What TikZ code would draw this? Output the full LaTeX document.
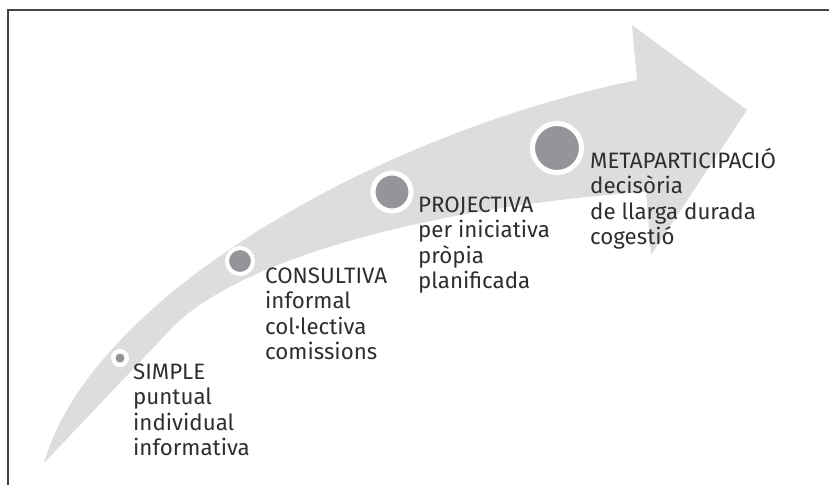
\documentclass[tikz,border=0pt]{standalone}
\usepackage{fontspec}
\setmainfont{Fira Sans}
\usetikzlibrary{positioning}
\definecolor{bandgrey}{HTML}{DCDDDE}
\definecolor{dotgrey}{HTML}{939598}
\definecolor{inkgrey}{HTML}{2E2E2E}
\definecolor{framegrey}{HTML}{444444}
\tikzset{
  ringdot/.style 2 args={circle,inner sep=0pt,fill=dotgrey,draw=white,line width=#1,minimum size=#2},
  stagetext/.style={anchor=base west,align=left,inner sep=0pt,text=inkgrey,font=\fontsize{22.3}{25.6}\selectfont}
}
\begin{document}
\begin{tikzpicture}[x=1pt,y=-1pt]
    \useasboundingbox (0,0) rectangle (829,485);
    % curved arrow
    \coordinate (tail) at (44,463);
    \coordinate (notchT) at (637,80);
    \coordinate (headT) at (632,25);
    \coordinate (tip) at (747,110);
    \coordinate (headB) at (651,255);
    \coordinate (notchB) at (646,192);
    \coordinate (bend) at (170,330);
    \fill[bandgrey] (tail) .. controls (90,300) and (370,135) .. (notchT) -- (headT) -- (tip)
        -- (headB) -- (notchB) .. controls (450,205) and (240,255) .. (bend) -- cycle;

    \node[ringdot={4.5}{13.5}] (simple) at (120,358) {};
    \node[ringdot={4}{26}] (consultiva) at (240,261) {};
    \node[ringdot={5}{38}] (projectiva) at (392,192) {};
    \node[ringdot={5}{49}] (meta) at (557,148) {};

    % base = last line
    \node[stagetext] (simpletxt) at (133,455.8) {SIMPLE\\puntual\\individual\\informativa};
    \node[stagetext] (consultivatxt) at (265,359.8) {CONSULTIVA\\informal\\col·lectiva\\comissions};
    \node[stagetext] (projectivatxt) at (418,288.8) {PROJECTIVA\\per iniciativa\\pròpia\\planificada};
    \node[stagetext] (metatxt) at (590,244.8) {METAPARTICIPACIÓ\\decisòria\\de llarga durada\\cogestió};

    \draw[framegrey,line width=2] (8,485) -- (8,10) -- (829,10);
  \end{tikzpicture}
\end{document}
